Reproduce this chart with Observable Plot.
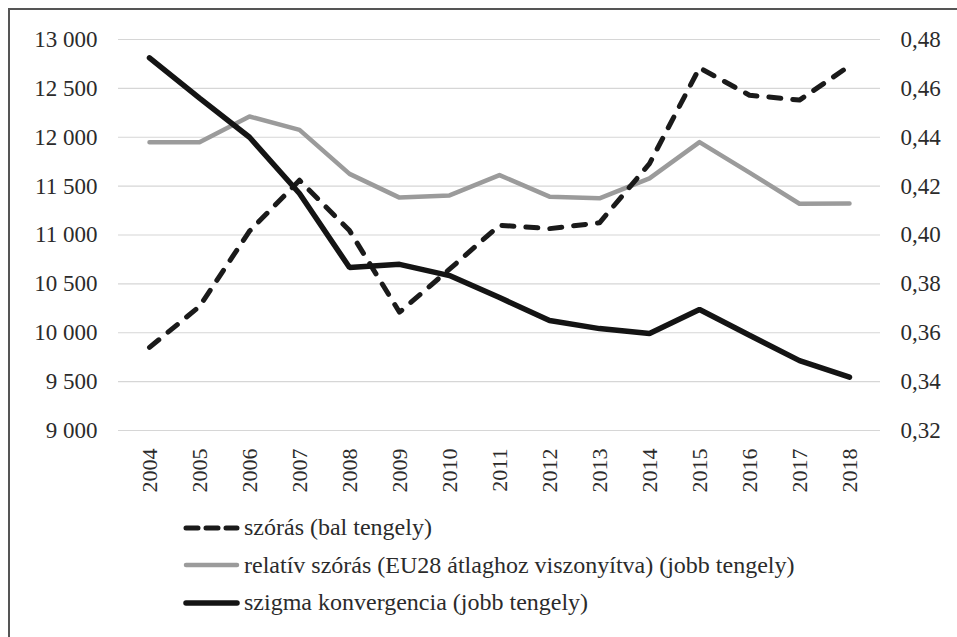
<!DOCTYPE html>
<html>
<head>
<meta charset="utf-8">
<script src="https://cdn.jsdelivr.net/npm/d3@7"></script>
<script src="https://cdn.jsdelivr.net/npm/@observablehq/plot@0.6"></script>
</head>
<body style="margin:0;padding:0;background:#fff;overflow:hidden;width:957px;height:637px;position:relative;font-family:'Liberation Serif', serif;color:#2b2b2b;">
<div id="frame" style="position:absolute;left:8px;top:8px;width:2000px;height:2000px;border-left:2px solid #555;border-top:2px solid #555;box-sizing:border-box;"></div>
<div id="chart" style="position:absolute;left:0;top:0;"></div>
<div id="legend" style="position:absolute;left:183px;top:509px;font-size:24px;font-family:'Liberation Serif', serif;"></div>
<script>
const years = ["2004","2005","2006","2007","2008","2009","2010","2011","2012","2013","2014","2015","2016","2017","2018"];
// szórás (bal tengely)
const szoras = [9850, 10270, 11040, 11560, 11045, 10210, 10650, 11100, 11065, 11125, 11730, 12710, 12430, 12380, 12730];
// relatív szórás (EU28 átlaghoz viszonyítva) (jobb tengely)
const relativ = [0.438, 0.438, 0.4485, 0.443, 0.425, 0.4153, 0.4162, 0.4245, 0.4157, 0.415, 0.4232, 0.438, 0.4255, 0.4128, 0.4129];
// szigma konvergencia (jobb tengely)
const szigma = [0.4725, 0.456, 0.440, 0.417, 0.3867, 0.388, 0.3834, 0.3744, 0.365, 0.3617, 0.3597, 0.3695, 0.359, 0.3486, 0.3418];

const leftTicks = [9000, 9500, 10000, 10500, 11000, 11500, 12000, 12500, 13000];
const rightTicks = [0.32, 0.34, 0.36, 0.38, 0.40, 0.42, 0.44, 0.46, 0.48];
const seriesNames = ["szórás (bal tengely)", "relatív szórás (EU28 átlaghoz viszonyítva) (jobb tengely)", "szigma konvergencia (jobb tengely)"];

const L0 = 9000, L1 = 13000, R0 = 0.32, R1 = 0.48;
const toLeft = r => L0 + (r - R0) / (R1 - R0) * (L1 - L0);
const toRight = v => R0 + (v - L0) / (L1 - L0) * (R1 - R0);
const fmtLeft = v => d3.format(",")(v).replace(/,/g, "\u00a0");
const fmtRight = v => toRight(v).toFixed(2).replace(".", ",");

const rows = years.map((y, i) => ({year: y, szoras: szoras[i], relativ: toLeft(relativ[i]), szigma: toLeft(szigma[i])}));

const styles = [
  {stroke: "#1a1a1a", strokeWidth: 5, strokeDasharray: "12 12", strokeLinecap: "round"},
  {stroke: "#9b9b9b", strokeWidth: 4.5, strokeLinecap: "round"},
  {stroke: "#141414", strokeWidth: 5.5, strokeLinecap: "round"}
];

const chart = Plot.plot({
  width: 957,
  height: 500,
  marginLeft: 118,
  marginRight: 77,
  marginTop: 39,
  marginBottom: 70,
  style: "font-family: 'Liberation Serif', serif; font-size: 23px; color: #2b2b2b; background: transparent;",
  x: {type: "point", domain: years, padding: 0.5},
  y: {domain: [L0, L1]},
  marks: [
    Plot.gridY(leftTicks, {stroke: "#d6d6d6", strokeOpacity: 1, strokeWidth: 1.2}),
    Plot.axisY(leftTicks, {anchor: "left", tickSize: 0, tickPadding: 21, tickFormat: fmtLeft, label: null, fontSize: 23}),
    Plot.axisY(rightTicks.map(toLeft), {anchor: "right", tickSize: 0, tickPadding: 20, textAnchor: "start", tickFormat: fmtRight, label: null, fontSize: 23}),
    Plot.axisX(years, {tickSize: 0, tickPadding: 18, tickRotate: -90, label: null, fontSize: 22}),
    Plot.line(rows, {x: "year", y: "relativ", ...styles[1], strokeLinejoin: "round"}),
    Plot.line(rows, {x: "year", y: "szoras", ...styles[0], strokeLinejoin: "round"}),
    Plot.line(rows, {x: "year", y: "szigma", ...styles[2], strokeLinejoin: "miter"})
  ]
});
chart.setAttribute("font-family", "Liberation Serif, serif");
chart.querySelectorAll("text").forEach(t => t.style.fontFamily = "'Liberation Serif', serif");
document.getElementById("chart").appendChild(chart);

const legend = document.getElementById("legend");
seriesNames.forEach((name, i) => {
  const row = document.createElement("div");
  row.style.cssText = "display:flex;align-items:center;height:37.5px;";
  const s = d3.create("svg").attr("width", 57).attr("height", 12).style("margin-right", "4px");
  const st = styles[i];
  s.append("line").attr("x1", 3).attr("x2", 54).attr("y1", 6).attr("y2", 6)
    .attr("stroke", st.stroke).attr("stroke-width", st.strokeWidth)
    .attr("stroke-linecap", "round")
    .attr("stroke-dasharray", i === 0 ? "12 8" : null);
  row.appendChild(s.node());
  const t = document.createElement("span");
  t.style.fontFamily = "'Liberation Serif', serif";
  t.textContent = name;
  row.appendChild(t);
  legend.appendChild(row);
});
</script>
</body>
</html>
